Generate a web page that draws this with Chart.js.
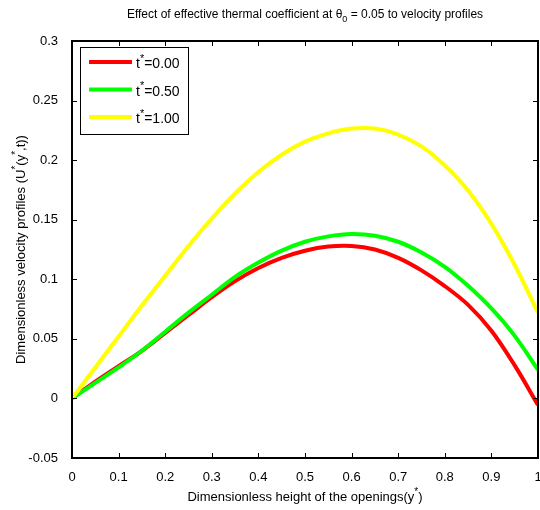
<!DOCTYPE html>
<html>
<head>
<meta charset="utf-8">
<script src="https://cdn.jsdelivr.net/npm/chart.js@4/dist/chart.umd.min.js"></script>
<style>
    html, body { margin: 0; padding: 0; background: #fff; }
    #wrap { width: 540px; height: 510px; }
</style>
</head>
<body>
<div id="wrap"><canvas id="velocityChart" width="540" height="510"></canvas></div>
<script>
// y* positions
const yStar = [0, 0.05, 0.1, 0.15, 0.2, 0.25, 0.3, 0.35, 0.4, 0.45, 0.5,
    0.55, 0.6, 0.65, 0.7, 0.75, 0.8, 0.85, 0.9, 0.95, 1];
// velocity profiles
const uT000 = [0, 0.014, 0.027, 0.040, 0.055, 0.070, 0.085, 0.0985, 0.1095, 0.118, 0.124,
    0.1275, 0.128, 0.125, 0.118, 0.1075, 0.0943, 0.0785, 0.0568, 0.0277, -0.0055];
const uT050 = [0, 0.013, 0.026, 0.040, 0.056, 0.072, 0.087, 0.102, 0.114, 0.124, 0.1315,
    0.136, 0.138, 0.1365, 0.1315, 0.1225, 0.1105, 0.0945, 0.0755, 0.0525, 0.024];
const uT100 = [0, 0.026, 0.052, 0.078, 0.103, 0.128, 0.151, 0.172, 0.190, 0.2045, 0.2155,
    0.2225, 0.2265, 0.2265, 0.2215, 0.2115, 0.1955, 0.1745, 0.1465, 0.112, 0.072];
const seriesLabels = ['0.00', '0.50', '1.00'];
const xTicks = [0, 0.1, 0.2, 0.3, 0.4, 0.5, 0.6, 0.7, 0.8, 0.9, 1];
const yTicks = [-0.05, 0, 0.05, 0.1, 0.15, 0.2, 0.25, 0.3];

const FONT = 'Liberation Sans, Arial, sans-serif';
const colors = ['#ff0000', '#00ff00', '#ffff00'];

function toPoints(ys) {
    return yStar.map((x, i) => ({ x: x, y: ys[i] }));
}

// draws text pieces, some raised (sup) or lowered (sub)
function richWidth(ctx, parts, size) {
    let w = 0;
    parts.forEach(p => {
        ctx.font = (p.sup || p.sub ? Math.round(size * 0.75) : size) + 'px ' + FONT;
        w += ctx.measureText(p.t).width;
    });
    return w;
}
function drawRich(ctx, parts, x, y, size) {
    let cx = x;
    parts.forEach(p => {
        let dy = 0;
        if (p.sup) dy = -size * 0.45;
        if (p.sub) dy = size * 0.3;
        ctx.font = (p.sup || p.sub ? Math.round(size * 0.75) : size) + 'px ' + FONT;
        ctx.fillText(p.t, cx, y + dy);
        cx += ctx.measureText(p.t).width;
    });
}

const matlabDecor = {
    id: 'matlabDecor',
    afterDraw(chart) {
        const ctx = chart.ctx;
        const a = chart.chartArea;
        const xs = chart.scales.x;
        const ys = chart.scales.y;
        ctx.save();
        ctx.strokeStyle = '#000';
        ctx.fillStyle = '#000';
        ctx.lineWidth = 1;

        // inner ticks
        const tl = 5;
        ctx.beginPath();
        xTicks.forEach(v => {
            const px = Math.round(xs.getPixelForValue(v)) + 0.5;
            ctx.moveTo(px, a.bottom); ctx.lineTo(px, a.bottom - tl);
            ctx.moveTo(px, a.top); ctx.lineTo(px, a.top + tl);
        });
        yTicks.forEach(v => {
            const py = Math.round(ys.getPixelForValue(v)) + 0.5;
            ctx.moveTo(a.left, py); ctx.lineTo(a.left + tl, py);
            ctx.moveTo(a.right, py); ctx.lineTo(a.right - tl, py);
        });
        ctx.stroke();

        // axes box
        ctx.lineWidth = 2;
        ctx.strokeRect(a.left, a.top, a.right - a.left, a.bottom - a.top);

        // title
        ctx.textBaseline = 'alphabetic';
        const titleParts = [
            { t: 'Effect of effective thermal coefficient at \u03b8' },
            { t: '0', sub: true },
            { t: ' = 0.05 to velocity profiles' }
        ];
        const tw = richWidth(ctx, titleParts, 12);
        drawRich(ctx, titleParts, (a.left + a.right) / 2 - tw / 2, 18, 12);

        // x axis title
        const xParts = [
            { t: 'Dimensionless height of the openings(y' },
            { t: '*', sup: true },
            { t: ')' }
        ];
        const xw = richWidth(ctx, xParts, 13);
        drawRich(ctx, xParts, (a.left + a.right) / 2 - xw / 2, 501, 13);

        // y axis title
        const yParts = [
            { t: 'Dimensionless velocity profiles (U' },
            { t: '*', sup: true },
            { t: '(y' },
            { t: '*', sup: true },
            { t: ',t))' }
        ];
        const yw = richWidth(ctx, yParts, 13);
        ctx.save();
        ctx.translate(25, (a.top + a.bottom) / 2);
        ctx.rotate(-Math.PI / 2);
        drawRich(ctx, yParts, -yw / 2, 0, 13);
        ctx.restore();

        // legend box
        const lx = a.left + 8, ly = a.top + 6, lw = 108, lh = 87;
        ctx.fillStyle = '#fff';
        ctx.fillRect(lx, ly, lw, lh);
        ctx.lineWidth = 1;
        ctx.strokeRect(lx + 0.5, ly + 0.5, lw, lh);
        seriesLabels.forEach((lab, i) => {
            const cy = ly + 15 + i * 27.5;
            ctx.strokeStyle = colors[i];
            ctx.lineWidth = 4;
            ctx.beginPath();
            ctx.moveTo(lx + 9, cy);
            ctx.lineTo(lx + 52, cy);
            ctx.stroke();
            ctx.fillStyle = '#000';
            drawRich(ctx, [{ t: 't' }, { t: '*', sup: true }, { t: '=' + lab }], lx + 56, cy + 6, 14);
        });
        ctx.restore();
    }
};

const velocityData = {
    datasets: [
        { label: 't*=' + seriesLabels[0], data: toPoints(uT000), borderColor: colors[0], order: 2 },
        { label: 't*=' + seriesLabels[1], data: toPoints(uT050), borderColor: colors[1], order: 1 },
        { label: 't*=' + seriesLabels[2], data: toPoints(uT100), borderColor: colors[2], order: 0 },
    ]
};

const velocityChart = new Chart(document.getElementById('velocityChart'), {
    type: 'line',
    data: velocityData,
    plugins: [matlabDecor],
    options: {
        responsive: false,
        animation: false,
        layout: { padding: { top: 41, right: 2, left: 0, bottom: 0 } },
        elements: {
            line: { borderWidth: 4, tension: 0.35, fill: false },
            point: { radius: 0 }
        },
        scales: {
            x: {
                type: 'linear',
                min: 0,
                max: 1,
                afterFit: s => { s.height = 52; s.paddingLeft = 0; s.paddingRight = 0; },
                afterBuildTicks: s => { s.ticks = xTicks.map(v => ({ value: v })); },
                grid: { display: false },
                border: { display: false },
                ticks: {
                    padding: 4,
                    color: '#000',
                    font: { family: FONT, size: 13 },
                    maxRotation: 0,
                    autoSkip: false,
                    callback: v => String(Number(v.toFixed(2)))
                }
            },
            y: {
                min: -0.05,
                max: 0.3,
                afterFit: s => { s.width = 72; s.paddingTop = 0; s.paddingBottom = 0; },
                afterBuildTicks: s => { s.ticks = yTicks.map(v => ({ value: v })); },
                grid: { display: false },
                border: { display: false },
                ticks: {
                    padding: 6,
                    color: '#000',
                    font: { family: FONT, size: 13 },
                    autoSkip: false,
                    callback: v => String(Number(v.toFixed(2)))
                }
            }
        },
        plugins: {
            legend: { display: false },
            tooltip: { enabled: false },
            title: { display: false }
        }
    }
});
</script>
</body>
</html>
